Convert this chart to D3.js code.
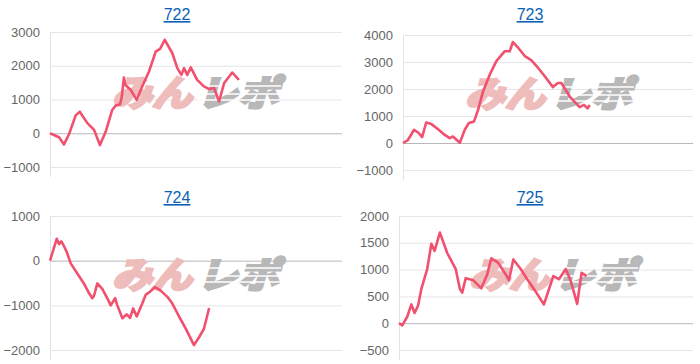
<!DOCTYPE html>
<html>
<head>
<meta charset="utf-8">
<script src="https://cdn.jsdelivr.net/npm/d3@7"></script>
<style>
  body { margin: 0; background: #fff; }
  svg { display: block; }
  .tick text { font-family: "Liberation Sans", Arial, sans-serif; font-size: 13px; fill: #666; }
</style>
</head>
<body>
<svg id="chart" width="700" height="364"></svg>
<script>
// x = progress through the x axis (0..100), y = cumulative balance
var titles = ["722", "723", "724", "725"];

var pos722 = [0, 3.1, 4.8, 6.5, 8.8, 10.2, 11.1, 12.8, 15.1, 17.1, 19.1, 21.3, 22.5, 24.0, 24.6, 25.3, 25.8, 27.6, 29.7, 31.6, 33.9, 36.2, 37.7, 39.3, 41.9, 43.6, 45.0, 45.9, 47.0, 48.2, 50.4, 52.7, 54.5, 56.2, 57.9, 59.6, 62.4, 64.7];
var val722 = [0, -120, -330, -30, 530, 640, 520, 300, 100, -350, 50, 690, 820, 860, 1090, 1650, 1430, 1290, 990, 1390, 1830, 2420, 2500, 2770, 2370, 1930, 1730, 1930, 1730, 1950, 1580, 1390, 1310, 1340, 940, 1480, 1800, 1580];

var pos723 = [0, 1.7, 3.8, 5.4, 6.6, 8.0, 9.8, 12.1, 14.4, 16.1, 17.2, 19.6, 21.3, 22.7, 24.5, 25.9, 27.6, 29.9, 32.2, 35.1, 36.8, 37.9, 39.7, 42.0, 44.2, 46.6, 48.9, 51.7, 53.4, 54.6, 57.5, 60.9, 62.4, 63.6, 64.4];
var val723 = [0, 110, 490, 370, 220, 760, 700, 510, 300, 180, 240, 10, 490, 740, 800, 1230, 1910, 2530, 3030, 3400, 3400, 3740, 3530, 3220, 3070, 2780, 2470, 2070, 2220, 2220, 1720, 1330, 1410, 1280, 1410];

var pos724 = [0, 2.3, 3.1, 3.9, 4.6, 5.7, 7.1, 9.3, 11.6, 13.4, 14.5, 15.1, 16.2, 17.9, 19.6, 20.8, 22.3, 23.0, 24.8, 26.3, 27.4, 28.5, 29.7, 31.6, 32.8, 34.2, 35.9, 37.7, 40.2, 41.9, 44.2, 46.5, 49.3, 51.0, 52.7, 54.5];
var val724 = [0, 490, 370, 430, 350, 200, -60, -280, -510, -730, -840, -780, -510, -630, -840, -1000, -840, -990, -1290, -1200, -1280, -1070, -1250, -960, -760, -700, -590, -660, -810, -960, -1250, -1520, -1890, -1720, -1530, -1060];

var pos725 = [0, 1.1, 2.8, 4.2, 5.3, 6.5, 7.6, 9.6, 11.0, 12.1, 13.9, 16.4, 19.3, 20.7, 21.5, 22.7, 25.3, 28.0, 30.0, 31.4, 33.7, 36.3, 37.4, 38.9, 41.4, 43.6, 45.9, 49.3, 52.5, 54.4, 56.7, 58.4, 60.6, 62.1, 63.8];
var val725 = [0, -40, 120, 350, 190, 330, 640, 1010, 1480, 1350, 1690, 1310, 1010, 640, 570, 840, 800, 650, 910, 1210, 1130, 910, 800, 1190, 1010, 820, 640, 350, 880, 820, 1010, 790, 360, 940, 880];

var ticks722 = [-1000, 0, 1000, 2000, 3000];
var ticks723 = [-1000, 0, 1000, 2000, 3000, 4000];
var ticks724 = [-2000, -1000, 0, 1000];
var ticks725 = [-500, 0, 500, 1000, 1500, 2000];

var panels = [
  { title: titles[0], pos: pos722, val: val722, ticks: ticks722, x0: 50, x1: 342, y0: 167, y1: 32, tx: 177, ty: 20, wx: 195, wy: 92 },
  { title: titles[1], pos: pos723, val: val723, ticks: ticks723, x0: 403, x1: 693, y0: 170, y1: 35, tx: 530, ty: 20, wx: 548, wy: 93 },
  { title: titles[2], pos: pos724, val: val724, ticks: ticks724, x0: 50, x1: 342, y0: 350, y1: 216, tx: 177, ty: 203, wx: 195, wy: 274 },
  { title: titles[3], pos: pos725, val: val725, ticks: ticks725, x0: 399, x1: 693, y0: 350, y1: 216, tx: 530, ty: 203, wx: 552, wy: 274 }
];

var svg = d3.select("#chart");

panels.forEach(function(p) {
  var g = svg.append("g");
  var x = d3.scaleLinear().domain([0, 100]).range([p.x0, p.x1]);
  var y = d3.scaleLinear().domain(d3.extent(p.ticks)).range([p.y0, p.y1]);

  // title link
  g.append("text")
    .attr("x", p.tx).attr("y", p.ty)
    .attr("text-anchor", "middle")
    .style("font-family", "Liberation Sans, Arial, sans-serif")
    .style("font-size", "16px")
    .style("fill", "#0b5fb5")
    .style("text-decoration", "underline")
    .text(p.title);

  // vertical axis line
  g.append("line")
    .attr("x1", p.x0 + 0.5).attr("x2", p.x0 + 0.5)
    .attr("y1", p.y1).attr("y2", p.y0 + 10)
    .style("stroke", "#e3e3e3");

  // grid
  var yAxis = d3.axisLeft(y).tickValues(p.ticks).tickSize(-(p.x1 - p.x0)).tickPadding(10).tickFormat(d3.format("d"));
  var ax = g.append("g").attr("transform", "translate(" + p.x0 + ",0)").call(yAxis);
  ax.select(".domain").remove();
  ax.selectAll(".tick line")
    .style("stroke", d => d === 0 ? "#b8b8b8" : "#e6e6e6");

  // watermark
  var wm = g.append("g").attr("transform", "translate(" + p.wx + "," + p.wy + ")");
  wm.append("text")
    .attr("x", -83).attr("y", 14)
    .attr("textLength", 80).attr("lengthAdjust", "spacingAndGlyphs")
    .style("font-family", "Noto Sans CJK JP, sans-serif")
    .style("font-weight", "bold").style("font-style", "italic")
    .style("font-size", "36px")
    .style("fill", "#efbcbc").style("stroke", "#efbcbc").style("stroke-width", 3)
    .text("みん");
  wm.append("text")
    .attr("x", 2).attr("y", 14)
    .attr("textLength", 82).attr("lengthAdjust", "spacingAndGlyphs")
    .style("font-family", "Noto Sans CJK JP, sans-serif")
    .style("font-weight", "bold").style("font-style", "italic")
    .style("font-size", "36px")
    .style("fill", "#b8b8b8").style("stroke", "#b8b8b8").style("stroke-width", 3)
    .text("レポ");
  [-6, 2, 8].forEach(function(dy) {
    wm.append("line")
      .attr("x1", 2).attr("x2", 86).attr("y1", dy).attr("y2", dy)
      .style("stroke", "#fff").style("stroke-width", 1.5);
  });

  // series line
  var pts = p.pos.map((d, i) => [d, p.val[i]]);
  g.append("path")
    .datum(pts)
    .attr("d", d3.line().x(d => x(d[0])).y(d => y(d[1])))
    .style("fill", "none")
    .style("stroke", "#f2506f")
    .style("stroke-width", 2.6)
    .style("stroke-linejoin", "round");
});
</script>
</body>
</html>
